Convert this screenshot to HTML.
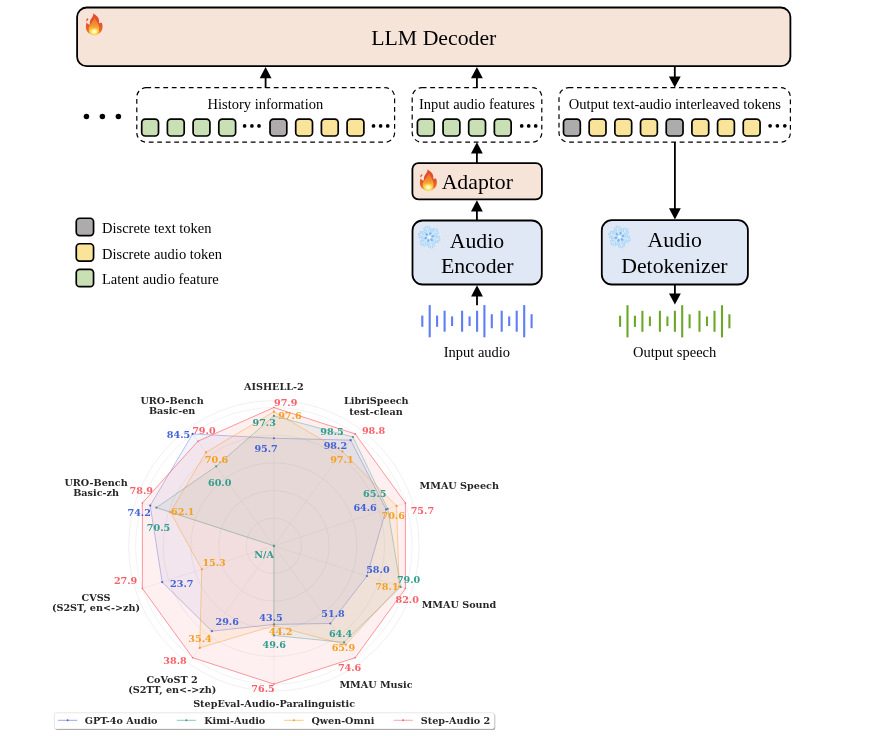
<!DOCTYPE html>
<html lang="en"><head><meta charset="utf-8"><title>Step-Audio 2 architecture and benchmark radar</title>
<style>
html,body{margin:0;padding:0;background:#fff;}
body{width:875px;height:736px;overflow:hidden;font-family:"Liberation Serif", "Times New Roman", serif;}
svg{display:block;will-change:transform;}
</style></head><body>
<svg width="875" height="736" viewBox="0 0 875 736">
<defs>
<linearGradient id="fireg" x1="0" y1="0" x2="0" y2="1">
<stop offset="0" stop-color="#E4492E"/><stop offset="0.5" stop-color="#E4502B"/><stop offset="0.8" stop-color="#EC6A2A"/><stop offset="1" stop-color="#F39A30"/>
</linearGradient>
<linearGradient id="firei" x1="0" y1="0" x2="0" y2="1">
<stop offset="0" stop-color="#EC6A2C"/><stop offset="0.45" stop-color="#F29333"/><stop offset="0.8" stop-color="#FBC63F"/><stop offset="1" stop-color="#FDD64A"/>
</linearGradient>
<radialGradient id="firey" cx="0.5" cy="0.5" r="0.5">
<stop offset="0" stop-color="#FFFFF2"/><stop offset="0.3" stop-color="#FFF7B0"/><stop offset="0.65" stop-color="#FDDC55" stop-opacity="0.8"/><stop offset="1" stop-color="#FBC63F" stop-opacity="0"/>
</radialGradient>
<filter id="fblur" x="-20%" y="-20%" width="140%" height="140%"><feGaussianBlur stdDeviation="20"/></filter>
</defs>
<rect width="875" height="736" fill="#fff"/>
<rect x="77.10" y="7.50" width="713.30" height="58.70" rx="9.5" ry="9.5" fill="#F6E4D8" stroke="#000" stroke-width="1.8" />
<g transform="translate(81.998,9.968) scale(0.03802,0.03802)">
<path d="M300 85 C330 120 400 150 430 210 C455 260 450 310 450 350 C475 335 500 330 520 335 C545 400 550 470 520 540 C490 610 420 650 320 650 C220 650 140 610 115 530 C95 470 100 390 120 330 C140 360 170 385 205 385 C200 320 215 250 250 215 C280 180 300 140 300 85 Z" fill="url(#fireg)"/>
<path d="M152 212 C122 238 104 270 114 302 C136 292 160 266 170 236 C160 232 154 224 152 212 Z" fill="#E5502E"/>
<path d="M330 190 C360 260 430 330 450 440 C465 550 410 645 320 648 C215 648 165 560 180 470 C195 380 300 300 330 190 Z" fill="url(#firei)" filter="url(#fblur)"/>
<ellipse cx="320" cy="570" rx="150" ry="120" fill="url(#firey)"/>
</g>
<text x="433.80" y="45.00" font-size="21.75" text-anchor="middle" fill="#000" font-family='"Liberation Serif", "Times New Roman", serif' font-weight="normal" >LLM Decoder</text>
<rect x="136.80" y="87.70" width="257.80" height="54.50" rx="9.5" ry="9.5" fill="none" stroke="#000" stroke-width="1.2" stroke-dasharray="4.8 3.7"/>
<rect x="412.20" y="87.70" width="129.60" height="54.50" rx="9.5" ry="9.5" fill="none" stroke="#000" stroke-width="1.2" stroke-dasharray="4.8 3.7"/>
<rect x="559.00" y="87.70" width="231.40" height="54.50" rx="9.5" ry="9.5" fill="none" stroke="#000" stroke-width="1.2" stroke-dasharray="4.8 3.7"/>
<text x="265.40" y="108.60" font-size="14.5" text-anchor="middle" fill="#000" font-family='"Liberation Serif", "Times New Roman", serif' font-weight="normal" >History information</text>
<text x="476.90" y="108.60" font-size="14.5" text-anchor="middle" fill="#000" font-family='"Liberation Serif", "Times New Roman", serif' font-weight="normal" >Input audio features</text>
<text x="674.90" y="108.60" font-size="14.5" text-anchor="middle" fill="#000" font-family='"Liberation Serif", "Times New Roman", serif' font-weight="normal" >Output text-audio interleaved tokens</text>
<rect x="141.70" y="119.20" width="16.80" height="16.80" rx="3.5" ry="3.5" fill="#C9E0B4" stroke="#000" stroke-width="1.7" />
<rect x="167.40" y="119.20" width="16.80" height="16.80" rx="3.5" ry="3.5" fill="#C9E0B4" stroke="#000" stroke-width="1.7" />
<rect x="193.10" y="119.20" width="16.80" height="16.80" rx="3.5" ry="3.5" fill="#C9E0B4" stroke="#000" stroke-width="1.7" />
<rect x="218.80" y="119.20" width="16.80" height="16.80" rx="3.5" ry="3.5" fill="#C9E0B4" stroke="#000" stroke-width="1.7" />
<circle cx="244.60" cy="125.90" r="1.85" fill="#000"/>
<circle cx="251.90" cy="125.90" r="1.85" fill="#000"/>
<circle cx="259.00" cy="125.90" r="1.85" fill="#000"/>
<rect x="270.00" y="119.20" width="16.80" height="16.80" rx="3.5" ry="3.5" fill="#ADABAB" stroke="#000" stroke-width="1.7" />
<rect x="295.70" y="119.20" width="16.80" height="16.80" rx="3.5" ry="3.5" fill="#FAE49A" stroke="#000" stroke-width="1.7" />
<rect x="321.40" y="119.20" width="16.80" height="16.80" rx="3.5" ry="3.5" fill="#FAE49A" stroke="#000" stroke-width="1.7" />
<rect x="347.10" y="119.20" width="16.80" height="16.80" rx="3.5" ry="3.5" fill="#FAE49A" stroke="#000" stroke-width="1.7" />
<circle cx="373.50" cy="125.90" r="1.85" fill="#000"/>
<circle cx="380.60" cy="125.90" r="1.85" fill="#000"/>
<circle cx="387.70" cy="125.90" r="1.85" fill="#000"/>
<rect x="417.40" y="119.20" width="16.80" height="16.80" rx="3.5" ry="3.5" fill="#C9E0B4" stroke="#000" stroke-width="1.7" />
<rect x="443.05" y="119.20" width="16.80" height="16.80" rx="3.5" ry="3.5" fill="#C9E0B4" stroke="#000" stroke-width="1.7" />
<rect x="468.70" y="119.20" width="16.80" height="16.80" rx="3.5" ry="3.5" fill="#C9E0B4" stroke="#000" stroke-width="1.7" />
<rect x="494.35" y="119.20" width="16.80" height="16.80" rx="3.5" ry="3.5" fill="#C9E0B4" stroke="#000" stroke-width="1.7" />
<circle cx="521.70" cy="125.90" r="1.85" fill="#000"/>
<circle cx="528.70" cy="125.90" r="1.85" fill="#000"/>
<circle cx="535.70" cy="125.90" r="1.85" fill="#000"/>
<rect x="563.50" y="119.20" width="16.80" height="16.80" rx="3.5" ry="3.5" fill="#ADABAB" stroke="#000" stroke-width="1.7" />
<rect x="589.18" y="119.20" width="16.80" height="16.80" rx="3.5" ry="3.5" fill="#FAE49A" stroke="#000" stroke-width="1.7" />
<rect x="614.86" y="119.20" width="16.80" height="16.80" rx="3.5" ry="3.5" fill="#FAE49A" stroke="#000" stroke-width="1.7" />
<rect x="640.54" y="119.20" width="16.80" height="16.80" rx="3.5" ry="3.5" fill="#FAE49A" stroke="#000" stroke-width="1.7" />
<rect x="666.22" y="119.20" width="16.80" height="16.80" rx="3.5" ry="3.5" fill="#ADABAB" stroke="#000" stroke-width="1.7" />
<rect x="691.90" y="119.20" width="16.80" height="16.80" rx="3.5" ry="3.5" fill="#FAE49A" stroke="#000" stroke-width="1.7" />
<rect x="717.58" y="119.20" width="16.80" height="16.80" rx="3.5" ry="3.5" fill="#FAE49A" stroke="#000" stroke-width="1.7" />
<rect x="743.26" y="119.20" width="16.80" height="16.80" rx="3.5" ry="3.5" fill="#FAE49A" stroke="#000" stroke-width="1.7" />
<circle cx="770.10" cy="125.80" r="1.85" fill="#000"/>
<circle cx="777.40" cy="125.80" r="1.85" fill="#000"/>
<circle cx="784.80" cy="125.80" r="1.85" fill="#000"/>
<circle cx="86.45" cy="116.60" r="2.75" fill="#000"/>
<circle cx="102.40" cy="116.60" r="2.75" fill="#000"/>
<circle cx="118.40" cy="116.60" r="2.75" fill="#000"/>
<path d="M265.60 77.20 L265.60 88.00" stroke="#000" stroke-width="1.8" fill="none"/>
<path d="M265.60 67.00 L271.50 78.20 L259.70 78.20 Z" fill="#000"/>
<path d="M476.90 77.20 L476.90 88.00" stroke="#000" stroke-width="1.8" fill="none"/>
<path d="M476.90 67.00 L482.80 78.20 L471.00 78.20 Z" fill="#000"/>
<path d="M674.80 67.00 L674.80 77.40" stroke="#000" stroke-width="1.8" fill="none"/>
<path d="M674.80 87.60 L680.70 76.40 L668.90 76.40 Z" fill="#000"/>
<path d="M476.90 152.40 L476.90 163.00" stroke="#000" stroke-width="1.8" fill="none"/>
<path d="M476.90 142.20 L482.80 153.40 L471.00 153.40 Z" fill="#000"/>
<path d="M476.90 210.40 L476.90 220.50" stroke="#000" stroke-width="1.8" fill="none"/>
<path d="M476.90 200.20 L482.80 211.40 L471.00 211.40 Z" fill="#000"/>
<path d="M477.00 295.40 L477.00 305.20" stroke="#000" stroke-width="1.8" fill="none"/>
<path d="M477.00 285.20 L482.90 296.40 L471.10 296.40 Z" fill="#000"/>
<path d="M674.90 142.00 L674.90 209.20" stroke="#000" stroke-width="1.8" fill="none"/>
<path d="M674.90 219.40 L680.80 208.20 L669.00 208.20 Z" fill="#000"/>
<path d="M674.90 285.00 L674.90 294.40" stroke="#000" stroke-width="1.8" fill="none"/>
<path d="M674.90 304.60 L680.80 293.40 L669.00 293.40 Z" fill="#000"/>
<rect x="412.40" y="163.10" width="129.50" height="36.20" rx="6" ry="6" fill="#F6E4D8" stroke="#000" stroke-width="1.8" />
<g transform="translate(415.930,166.143) scale(0.03870,0.03714)">
<path d="M300 85 C330 120 400 150 430 210 C455 260 450 310 450 350 C475 335 500 330 520 335 C545 400 550 470 520 540 C490 610 420 650 320 650 C220 650 140 610 115 530 C95 470 100 390 120 330 C140 360 170 385 205 385 C200 320 215 250 250 215 C280 180 300 140 300 85 Z" fill="url(#fireg)"/>
<path d="M152 212 C122 238 104 270 114 302 C136 292 160 266 170 236 C160 232 154 224 152 212 Z" fill="#E5502E"/>
<path d="M330 190 C360 260 430 330 450 440 C465 550 410 645 320 648 C215 648 165 560 180 470 C195 380 300 300 330 190 Z" fill="url(#firei)" filter="url(#fblur)"/>
<ellipse cx="320" cy="570" rx="150" ry="120" fill="url(#firey)"/>
</g>
<text x="477.30" y="189.20" font-size="21.75" text-anchor="middle" fill="#000" font-family='"Liberation Serif", "Times New Roman", serif' font-weight="normal" >Adaptor</text>
<rect x="412.50" y="220.50" width="129.30" height="64.00" rx="10" ry="10" fill="#E0E8F5" stroke="#000" stroke-width="1.8" />
<g transform="translate(429.20,237.10) rotate(-14)" stroke-linecap="round" fill="none">
<g transform="rotate(0)" stroke="#A6D0F6" stroke-width="2.62">
<path d="M0 0 L0 -10.46"/>
<path d="M0 -4.36 L3.06 -6.79 M0 -4.36 L-3.06 -6.79" stroke-width="2.29"/>
<path d="M0 -7.19 L2.55 -9.22 M0 -7.19 L-2.55 -9.22" stroke-width="2.29"/>
</g>
<g transform="rotate(60)" stroke="#A6D0F6" stroke-width="2.62">
<path d="M0 0 L0 -10.46"/>
<path d="M0 -4.36 L3.06 -6.79 M0 -4.36 L-3.06 -6.79" stroke-width="2.29"/>
<path d="M0 -7.19 L2.55 -9.22 M0 -7.19 L-2.55 -9.22" stroke-width="2.29"/>
</g>
<g transform="rotate(120)" stroke="#A6D0F6" stroke-width="2.62">
<path d="M0 0 L0 -10.46"/>
<path d="M0 -4.36 L3.06 -6.79 M0 -4.36 L-3.06 -6.79" stroke-width="2.29"/>
<path d="M0 -7.19 L2.55 -9.22 M0 -7.19 L-2.55 -9.22" stroke-width="2.29"/>
</g>
<g transform="rotate(180)" stroke="#A6D0F6" stroke-width="2.62">
<path d="M0 0 L0 -10.46"/>
<path d="M0 -4.36 L3.06 -6.79 M0 -4.36 L-3.06 -6.79" stroke-width="2.29"/>
<path d="M0 -7.19 L2.55 -9.22 M0 -7.19 L-2.55 -9.22" stroke-width="2.29"/>
</g>
<g transform="rotate(240)" stroke="#A6D0F6" stroke-width="2.62">
<path d="M0 0 L0 -10.46"/>
<path d="M0 -4.36 L3.06 -6.79 M0 -4.36 L-3.06 -6.79" stroke-width="2.29"/>
<path d="M0 -7.19 L2.55 -9.22 M0 -7.19 L-2.55 -9.22" stroke-width="2.29"/>
</g>
<g transform="rotate(300)" stroke="#A6D0F6" stroke-width="2.62">
<path d="M0 0 L0 -10.46"/>
<path d="M0 -4.36 L3.06 -6.79 M0 -4.36 L-3.06 -6.79" stroke-width="2.29"/>
<path d="M0 -7.19 L2.55 -9.22 M0 -7.19 L-2.55 -9.22" stroke-width="2.29"/>
</g>
<g transform="rotate(0)" stroke="#D3ECFC" stroke-width="1.20">
<path d="M0 0 L0 -10.46"/>
<path d="M0 -4.36 L3.06 -6.79 M0 -4.36 L-3.06 -6.79" stroke-width="0.98"/>
<path d="M0 -7.19 L2.55 -9.22 M0 -7.19 L-2.55 -9.22" stroke-width="0.98"/>
</g>
<g transform="rotate(60)" stroke="#D3ECFC" stroke-width="1.20">
<path d="M0 0 L0 -10.46"/>
<path d="M0 -4.36 L3.06 -6.79 M0 -4.36 L-3.06 -6.79" stroke-width="0.98"/>
<path d="M0 -7.19 L2.55 -9.22 M0 -7.19 L-2.55 -9.22" stroke-width="0.98"/>
</g>
<g transform="rotate(120)" stroke="#D3ECFC" stroke-width="1.20">
<path d="M0 0 L0 -10.46"/>
<path d="M0 -4.36 L3.06 -6.79 M0 -4.36 L-3.06 -6.79" stroke-width="0.98"/>
<path d="M0 -7.19 L2.55 -9.22 M0 -7.19 L-2.55 -9.22" stroke-width="0.98"/>
</g>
<g transform="rotate(180)" stroke="#D3ECFC" stroke-width="1.20">
<path d="M0 0 L0 -10.46"/>
<path d="M0 -4.36 L3.06 -6.79 M0 -4.36 L-3.06 -6.79" stroke-width="0.98"/>
<path d="M0 -7.19 L2.55 -9.22 M0 -7.19 L-2.55 -9.22" stroke-width="0.98"/>
</g>
<g transform="rotate(240)" stroke="#D3ECFC" stroke-width="1.20">
<path d="M0 0 L0 -10.46"/>
<path d="M0 -4.36 L3.06 -6.79 M0 -4.36 L-3.06 -6.79" stroke-width="0.98"/>
<path d="M0 -7.19 L2.55 -9.22 M0 -7.19 L-2.55 -9.22" stroke-width="0.98"/>
</g>
<g transform="rotate(300)" stroke="#D3ECFC" stroke-width="1.20">
<path d="M0 0 L0 -10.46"/>
<path d="M0 -4.36 L3.06 -6.79 M0 -4.36 L-3.06 -6.79" stroke-width="0.98"/>
<path d="M0 -7.19 L2.55 -9.22 M0 -7.19 L-2.55 -9.22" stroke-width="0.98"/>
</g>
<path transform="rotate(30)" d="M0 -3.27 L0 -3.92" stroke="#86B4EC" stroke-width="2.18"/>
<path transform="rotate(90)" d="M0 -3.27 L0 -3.92" stroke="#86B4EC" stroke-width="2.18"/>
<path transform="rotate(150)" d="M0 -3.27 L0 -3.92" stroke="#86B4EC" stroke-width="2.18"/>
<path transform="rotate(210)" d="M0 -3.27 L0 -3.92" stroke="#86B4EC" stroke-width="2.18"/>
<path transform="rotate(270)" d="M0 -3.27 L0 -3.92" stroke="#86B4EC" stroke-width="2.18"/>
<path transform="rotate(330)" d="M0 -3.27 L0 -3.92" stroke="#86B4EC" stroke-width="2.18"/>
<circle cx="0" cy="0" r="1.74" fill="#E6F5FD" stroke="none"/>
</g>
<text x="476.90" y="247.50" font-size="21.75" text-anchor="middle" fill="#000" font-family='"Liberation Serif", "Times New Roman", serif' font-weight="normal" >Audio</text>
<text x="477.20" y="273.20" font-size="21.75" text-anchor="middle" fill="#000" font-family='"Liberation Serif", "Times New Roman", serif' font-weight="normal" >Encoder</text>
<rect x="601.80" y="220.20" width="146.10" height="64.30" rx="10" ry="10" fill="#E0E8F5" stroke="#000" stroke-width="1.8" />
<g transform="translate(619.50,236.90) rotate(-14)" stroke-linecap="round" fill="none">
<g transform="rotate(0)" stroke="#A6D0F6" stroke-width="2.62">
<path d="M0 0 L0 -10.46"/>
<path d="M0 -4.36 L3.06 -6.79 M0 -4.36 L-3.06 -6.79" stroke-width="2.29"/>
<path d="M0 -7.19 L2.55 -9.22 M0 -7.19 L-2.55 -9.22" stroke-width="2.29"/>
</g>
<g transform="rotate(60)" stroke="#A6D0F6" stroke-width="2.62">
<path d="M0 0 L0 -10.46"/>
<path d="M0 -4.36 L3.06 -6.79 M0 -4.36 L-3.06 -6.79" stroke-width="2.29"/>
<path d="M0 -7.19 L2.55 -9.22 M0 -7.19 L-2.55 -9.22" stroke-width="2.29"/>
</g>
<g transform="rotate(120)" stroke="#A6D0F6" stroke-width="2.62">
<path d="M0 0 L0 -10.46"/>
<path d="M0 -4.36 L3.06 -6.79 M0 -4.36 L-3.06 -6.79" stroke-width="2.29"/>
<path d="M0 -7.19 L2.55 -9.22 M0 -7.19 L-2.55 -9.22" stroke-width="2.29"/>
</g>
<g transform="rotate(180)" stroke="#A6D0F6" stroke-width="2.62">
<path d="M0 0 L0 -10.46"/>
<path d="M0 -4.36 L3.06 -6.79 M0 -4.36 L-3.06 -6.79" stroke-width="2.29"/>
<path d="M0 -7.19 L2.55 -9.22 M0 -7.19 L-2.55 -9.22" stroke-width="2.29"/>
</g>
<g transform="rotate(240)" stroke="#A6D0F6" stroke-width="2.62">
<path d="M0 0 L0 -10.46"/>
<path d="M0 -4.36 L3.06 -6.79 M0 -4.36 L-3.06 -6.79" stroke-width="2.29"/>
<path d="M0 -7.19 L2.55 -9.22 M0 -7.19 L-2.55 -9.22" stroke-width="2.29"/>
</g>
<g transform="rotate(300)" stroke="#A6D0F6" stroke-width="2.62">
<path d="M0 0 L0 -10.46"/>
<path d="M0 -4.36 L3.06 -6.79 M0 -4.36 L-3.06 -6.79" stroke-width="2.29"/>
<path d="M0 -7.19 L2.55 -9.22 M0 -7.19 L-2.55 -9.22" stroke-width="2.29"/>
</g>
<g transform="rotate(0)" stroke="#D3ECFC" stroke-width="1.20">
<path d="M0 0 L0 -10.46"/>
<path d="M0 -4.36 L3.06 -6.79 M0 -4.36 L-3.06 -6.79" stroke-width="0.98"/>
<path d="M0 -7.19 L2.55 -9.22 M0 -7.19 L-2.55 -9.22" stroke-width="0.98"/>
</g>
<g transform="rotate(60)" stroke="#D3ECFC" stroke-width="1.20">
<path d="M0 0 L0 -10.46"/>
<path d="M0 -4.36 L3.06 -6.79 M0 -4.36 L-3.06 -6.79" stroke-width="0.98"/>
<path d="M0 -7.19 L2.55 -9.22 M0 -7.19 L-2.55 -9.22" stroke-width="0.98"/>
</g>
<g transform="rotate(120)" stroke="#D3ECFC" stroke-width="1.20">
<path d="M0 0 L0 -10.46"/>
<path d="M0 -4.36 L3.06 -6.79 M0 -4.36 L-3.06 -6.79" stroke-width="0.98"/>
<path d="M0 -7.19 L2.55 -9.22 M0 -7.19 L-2.55 -9.22" stroke-width="0.98"/>
</g>
<g transform="rotate(180)" stroke="#D3ECFC" stroke-width="1.20">
<path d="M0 0 L0 -10.46"/>
<path d="M0 -4.36 L3.06 -6.79 M0 -4.36 L-3.06 -6.79" stroke-width="0.98"/>
<path d="M0 -7.19 L2.55 -9.22 M0 -7.19 L-2.55 -9.22" stroke-width="0.98"/>
</g>
<g transform="rotate(240)" stroke="#D3ECFC" stroke-width="1.20">
<path d="M0 0 L0 -10.46"/>
<path d="M0 -4.36 L3.06 -6.79 M0 -4.36 L-3.06 -6.79" stroke-width="0.98"/>
<path d="M0 -7.19 L2.55 -9.22 M0 -7.19 L-2.55 -9.22" stroke-width="0.98"/>
</g>
<g transform="rotate(300)" stroke="#D3ECFC" stroke-width="1.20">
<path d="M0 0 L0 -10.46"/>
<path d="M0 -4.36 L3.06 -6.79 M0 -4.36 L-3.06 -6.79" stroke-width="0.98"/>
<path d="M0 -7.19 L2.55 -9.22 M0 -7.19 L-2.55 -9.22" stroke-width="0.98"/>
</g>
<path transform="rotate(30)" d="M0 -3.27 L0 -3.92" stroke="#86B4EC" stroke-width="2.18"/>
<path transform="rotate(90)" d="M0 -3.27 L0 -3.92" stroke="#86B4EC" stroke-width="2.18"/>
<path transform="rotate(150)" d="M0 -3.27 L0 -3.92" stroke="#86B4EC" stroke-width="2.18"/>
<path transform="rotate(210)" d="M0 -3.27 L0 -3.92" stroke="#86B4EC" stroke-width="2.18"/>
<path transform="rotate(270)" d="M0 -3.27 L0 -3.92" stroke="#86B4EC" stroke-width="2.18"/>
<path transform="rotate(330)" d="M0 -3.27 L0 -3.92" stroke="#86B4EC" stroke-width="2.18"/>
<circle cx="0" cy="0" r="1.74" fill="#E6F5FD" stroke="none"/>
</g>
<text x="674.70" y="247.30" font-size="21.75" text-anchor="middle" fill="#000" font-family='"Liberation Serif", "Times New Roman", serif' font-weight="normal" >Audio</text>
<text x="674.40" y="273.10" font-size="21.75" text-anchor="middle" fill="#000" font-family='"Liberation Serif", "Times New Roman", serif' font-weight="normal" >Detokenizer</text>
<rect x="421.25" y="315.60" width="2.1" height="11.20" fill="#5F7DF5"/>
<rect x="428.65" y="305.10" width="2.1" height="32.20" fill="#5F7DF5"/>
<rect x="436.05" y="315.60" width="2.1" height="11.20" fill="#5F7DF5"/>
<rect x="443.55" y="310.70" width="2.1" height="21.00" fill="#5F7DF5"/>
<rect x="451.05" y="316.40" width="2.1" height="9.60" fill="#5F7DF5"/>
<rect x="461.05" y="310.70" width="2.1" height="21.00" fill="#5F7DF5"/>
<rect x="468.55" y="316.40" width="2.1" height="9.60" fill="#5F7DF5"/>
<rect x="476.05" y="310.70" width="2.1" height="21.00" fill="#5F7DF5"/>
<rect x="483.35" y="305.10" width="2.1" height="32.20" fill="#5F7DF5"/>
<rect x="490.75" y="314.20" width="2.1" height="14.00" fill="#5F7DF5"/>
<rect x="500.65" y="310.70" width="2.1" height="21.00" fill="#5F7DF5"/>
<rect x="508.15" y="316.40" width="2.1" height="9.60" fill="#5F7DF5"/>
<rect x="515.65" y="310.70" width="2.1" height="21.00" fill="#5F7DF5"/>
<rect x="523.15" y="305.10" width="2.1" height="32.20" fill="#5F7DF5"/>
<rect x="530.55" y="314.20" width="2.1" height="14.00" fill="#5F7DF5"/>
<rect x="619.05" y="315.70" width="2.1" height="11.20" fill="#6BA82A"/>
<rect x="626.45" y="305.20" width="2.1" height="32.20" fill="#6BA82A"/>
<rect x="633.85" y="315.70" width="2.1" height="11.20" fill="#6BA82A"/>
<rect x="641.35" y="310.80" width="2.1" height="21.00" fill="#6BA82A"/>
<rect x="648.85" y="316.50" width="2.1" height="9.60" fill="#6BA82A"/>
<rect x="658.85" y="310.80" width="2.1" height="21.00" fill="#6BA82A"/>
<rect x="666.35" y="316.50" width="2.1" height="9.60" fill="#6BA82A"/>
<rect x="673.85" y="310.80" width="2.1" height="21.00" fill="#6BA82A"/>
<rect x="681.15" y="305.20" width="2.1" height="32.20" fill="#6BA82A"/>
<rect x="688.55" y="314.30" width="2.1" height="14.00" fill="#6BA82A"/>
<rect x="698.45" y="310.80" width="2.1" height="21.00" fill="#6BA82A"/>
<rect x="705.95" y="316.50" width="2.1" height="9.60" fill="#6BA82A"/>
<rect x="713.45" y="310.80" width="2.1" height="21.00" fill="#6BA82A"/>
<rect x="720.95" y="305.20" width="2.1" height="32.20" fill="#6BA82A"/>
<rect x="728.35" y="314.30" width="2.1" height="14.00" fill="#6BA82A"/>
<text x="476.90" y="356.70" font-size="14.5" text-anchor="middle" fill="#000" font-family='"Liberation Serif", "Times New Roman", serif' font-weight="normal" >Input audio</text>
<text x="674.60" y="356.70" font-size="14.5" text-anchor="middle" fill="#000" font-family='"Liberation Serif", "Times New Roman", serif' font-weight="normal" >Output speech</text>
<rect x="76.25" y="218.25" width="17.30" height="17.30" rx="3.5" ry="3.5" fill="#ADABAB" stroke="#000" stroke-width="1.7" />
<text x="102.00" y="232.90" font-size="14.5" text-anchor="start" fill="#000" font-family='"Liberation Serif", "Times New Roman", serif' font-weight="normal" >Discrete text token</text>
<rect x="76.25" y="243.75" width="17.30" height="17.30" rx="3.5" ry="3.5" fill="#FAE49A" stroke="#000" stroke-width="1.7" />
<text x="102.00" y="258.80" font-size="14.5" text-anchor="start" fill="#000" font-family='"Liberation Serif", "Times New Roman", serif' font-weight="normal" >Discrete audio token</text>
<rect x="76.25" y="269.35" width="17.30" height="17.30" rx="3.5" ry="3.5" fill="#C9E0B4" stroke="#000" stroke-width="1.7" />
<text x="102.00" y="283.70" font-size="14.5" text-anchor="start" fill="#000" font-family='"Liberation Serif", "Times New Roman", serif' font-weight="normal" >Latent audio feature</text>
<circle cx="273.9" cy="545.8" r="27.66" fill="none" stroke="#b0b0b0" stroke-opacity="0.28" stroke-width="0.6"/>
<circle cx="273.9" cy="545.8" r="55.32" fill="none" stroke="#b0b0b0" stroke-opacity="0.28" stroke-width="0.6"/>
<circle cx="273.9" cy="545.8" r="82.98" fill="none" stroke="#b0b0b0" stroke-opacity="0.28" stroke-width="0.6"/>
<circle cx="273.9" cy="545.8" r="110.64" fill="none" stroke="#b0b0b0" stroke-opacity="0.28" stroke-width="0.6"/>
<circle cx="273.9" cy="545.8" r="138.30" fill="none" stroke="#b0b0b0" stroke-opacity="0.28" stroke-width="0.6"/>
<circle cx="273.9" cy="545.8" r="145.22" fill="none" stroke="#b0b0b0" stroke-opacity="0.28" stroke-width="0.7"/>
<path d="M273.9 545.8 L273.90 407.50" stroke="#b0b0b0" stroke-opacity="0.22" stroke-width="0.6"/>
<path d="M273.9 545.8 L355.19 433.91" stroke="#b0b0b0" stroke-opacity="0.22" stroke-width="0.6"/>
<path d="M273.9 545.8 L405.43 503.06" stroke="#b0b0b0" stroke-opacity="0.22" stroke-width="0.6"/>
<path d="M273.9 545.8 L405.43 588.54" stroke="#b0b0b0" stroke-opacity="0.22" stroke-width="0.6"/>
<path d="M273.9 545.8 L355.19 657.69" stroke="#b0b0b0" stroke-opacity="0.22" stroke-width="0.6"/>
<path d="M273.9 545.8 L273.90 684.10" stroke="#b0b0b0" stroke-opacity="0.22" stroke-width="0.6"/>
<path d="M273.9 545.8 L192.61 657.69" stroke="#b0b0b0" stroke-opacity="0.22" stroke-width="0.6"/>
<path d="M273.9 545.8 L142.37 588.54" stroke="#b0b0b0" stroke-opacity="0.22" stroke-width="0.6"/>
<path d="M273.9 545.8 L142.37 503.06" stroke="#b0b0b0" stroke-opacity="0.22" stroke-width="0.6"/>
<path d="M273.9 545.8 L192.61 433.91" stroke="#b0b0b0" stroke-opacity="0.22" stroke-width="0.6"/>
<path d="M273.90 438.23 L350.67 440.13 L386.14 509.33 L366.93 576.03 L330.35 623.49 L273.90 624.44 L211.88 631.16 L162.17 582.10 L150.20 505.61 L192.61 433.91 Z" fill="#4063D8" fill-opacity="0.07" stroke="#4063D8" stroke-width="0.6" stroke-opacity="0.62" stroke-linejoin="round"/>
<circle cx="273.90" cy="438.23" r="1.1" fill="#4063D8"/>
<circle cx="350.67" cy="440.13" r="1.1" fill="#4063D8"/>
<circle cx="386.14" cy="509.33" r="1.1" fill="#4063D8"/>
<circle cx="366.93" cy="576.03" r="1.1" fill="#4063D8"/>
<circle cx="330.35" cy="623.49" r="1.1" fill="#4063D8"/>
<circle cx="273.90" cy="624.44" r="1.1" fill="#4063D8"/>
<circle cx="211.88" cy="631.16" r="1.1" fill="#4063D8"/>
<circle cx="162.17" cy="582.10" r="1.1" fill="#4063D8"/>
<circle cx="150.20" cy="505.61" r="1.1" fill="#4063D8"/>
<circle cx="192.61" cy="433.91" r="1.1" fill="#4063D8"/>
<path d="M273.90 415.88 L352.93 437.02 L387.71 508.82 L400.62 586.97 L344.08 642.39 L273.90 635.47 L273.90 545.80 L273.90 545.80 L156.37 507.61 L216.18 466.35 Z" fill="#2E9E8F" fill-opacity="0.08" stroke="#2E9E8F" stroke-width="0.6" stroke-opacity="0.65" stroke-linejoin="round"/>
<circle cx="273.90" cy="415.88" r="1.1" fill="#2E9E8F"/>
<circle cx="352.93" cy="437.02" r="1.1" fill="#2E9E8F"/>
<circle cx="387.71" cy="508.82" r="1.1" fill="#2E9E8F"/>
<circle cx="400.62" cy="586.97" r="1.1" fill="#2E9E8F"/>
<circle cx="344.08" cy="642.39" r="1.1" fill="#2E9E8F"/>
<circle cx="273.90" cy="635.47" r="1.1" fill="#2E9E8F"/>
<circle cx="273.90" cy="545.80" r="1.1" fill="#2E9E8F"/>
<circle cx="273.90" cy="545.80" r="1.1" fill="#2E9E8F"/>
<circle cx="156.37" cy="507.61" r="1.1" fill="#2E9E8F"/>
<circle cx="216.18" cy="466.35" r="1.1" fill="#2E9E8F"/>
<path d="M273.90 411.69 L342.39 451.52 L396.57 505.94 L399.18 586.50 L345.71 644.64 L273.90 625.71 L199.73 647.88 L201.77 569.24 L170.38 512.16 L205.98 452.32 Z" fill="#F5A020" fill-opacity="0.08" stroke="#F5A020" stroke-width="0.6" stroke-opacity="0.7" stroke-linejoin="round"/>
<circle cx="273.90" cy="411.69" r="1.1" fill="#F5A020"/>
<circle cx="342.39" cy="451.52" r="1.1" fill="#F5A020"/>
<circle cx="396.57" cy="505.94" r="1.1" fill="#F5A020"/>
<circle cx="399.18" cy="586.50" r="1.1" fill="#F5A020"/>
<circle cx="345.71" cy="644.64" r="1.1" fill="#F5A020"/>
<circle cx="273.90" cy="625.71" r="1.1" fill="#F5A020"/>
<circle cx="199.73" cy="647.88" r="1.1" fill="#F5A020"/>
<circle cx="201.77" cy="569.24" r="1.1" fill="#F5A020"/>
<circle cx="170.38" cy="512.16" r="1.1" fill="#F5A020"/>
<circle cx="205.98" cy="452.32" r="1.1" fill="#F5A020"/>
<path d="M273.90 407.50 L355.19 433.91 L405.43 503.06 L405.43 588.54 L355.19 657.69 L273.90 684.10 L192.61 657.69 L142.37 588.54 L142.37 503.06 L197.90 441.20 Z" fill="#FA5F68" fill-opacity="0.1" stroke="#FA5F68" stroke-width="0.75" stroke-opacity="0.85" stroke-linejoin="round"/>
<circle cx="273.90" cy="407.50" r="0.8" fill="#FA5F68"/>
<circle cx="355.19" cy="433.91" r="0.8" fill="#FA5F68"/>
<circle cx="405.43" cy="503.06" r="0.8" fill="#FA5F68"/>
<circle cx="405.43" cy="588.54" r="0.8" fill="#FA5F68"/>
<circle cx="355.19" cy="657.69" r="0.8" fill="#FA5F68"/>
<circle cx="273.90" cy="684.10" r="0.8" fill="#FA5F68"/>
<circle cx="192.61" cy="657.69" r="0.8" fill="#FA5F68"/>
<circle cx="142.37" cy="588.54" r="0.8" fill="#FA5F68"/>
<circle cx="142.37" cy="503.06" r="0.8" fill="#FA5F68"/>
<circle cx="197.90" cy="441.20" r="0.8" fill="#FA5F68"/>
<text x="273.90" y="389.80" font-size="9.65" text-anchor="middle" fill="#262626" font-family='"DejaVu Serif", "Liberation Serif", serif' font-weight="bold">AISHELL-2</text>
<text x="376.30" y="403.60" font-size="9.65" text-anchor="middle" fill="#262626" font-family='"DejaVu Serif", "Liberation Serif", serif' font-weight="bold">LibriSpeech</text>
<text x="376.00" y="414.50" font-size="9.65" text-anchor="middle" fill="#262626" font-family='"DejaVu Serif", "Liberation Serif", serif' font-weight="bold">test-clean</text>
<text x="376.00" y="688.20" font-size="9.65" text-anchor="middle" fill="#262626" font-family='"DejaVu Serif", "Liberation Serif", serif' font-weight="bold">MMAU Music</text>
<text x="274.10" y="706.80" font-size="9.65" text-anchor="middle" fill="#262626" font-family='"DejaVu Serif", "Liberation Serif", serif' font-weight="bold">StepEval-Audio-Paralinguistic</text>
<text x="172.00" y="682.70" font-size="9.65" text-anchor="middle" fill="#262626" font-family='"DejaVu Serif", "Liberation Serif", serif' font-weight="bold">CoVoST 2</text>
<text x="172.20" y="693.20" font-size="9.65" text-anchor="middle" fill="#262626" font-family='"DejaVu Serif", "Liberation Serif", serif' font-weight="bold">(S2TT, en&lt;-&gt;zh)</text>
<text x="96.00" y="600.80" font-size="9.65" text-anchor="middle" fill="#262626" font-family='"DejaVu Serif", "Liberation Serif", serif' font-weight="bold">CVSS</text>
<text x="96.00" y="611.40" font-size="9.65" text-anchor="middle" fill="#262626" font-family='"DejaVu Serif", "Liberation Serif", serif' font-weight="bold">(S2ST, en&lt;-&gt;zh)</text>
<text x="96.10" y="486.30" font-size="9.65" text-anchor="middle" fill="#262626" font-family='"DejaVu Serif", "Liberation Serif", serif' font-weight="bold">URO-Bench</text>
<text x="96.10" y="496.40" font-size="9.65" text-anchor="middle" fill="#262626" font-family='"DejaVu Serif", "Liberation Serif", serif' font-weight="bold">Basic-zh</text>
<text x="172.10" y="404.30" font-size="9.65" text-anchor="middle" fill="#262626" font-family='"DejaVu Serif", "Liberation Serif", serif' font-weight="bold">URO-Bench</text>
<text x="172.10" y="414.40" font-size="9.65" text-anchor="middle" fill="#262626" font-family='"DejaVu Serif", "Liberation Serif", serif' font-weight="bold">Basic-en</text>
<text x="419.60" y="488.80" font-size="9.65" text-anchor="start" fill="#262626" font-family='"DejaVu Serif", "Liberation Serif", serif' font-weight="bold">MMAU Speech</text>
<text x="421.70" y="608.00" font-size="9.65" text-anchor="start" fill="#262626" font-family='"DejaVu Serif", "Liberation Serif", serif' font-weight="bold">MMAU Sound</text>
<text x="178.50" y="437.65" font-size="9.62" text-anchor="middle" fill="#4063D8" font-family='"DejaVu Serif", "Liberation Serif", serif' font-weight="bold">84.5</text>
<text x="203.90" y="433.95" font-size="9.62" text-anchor="middle" fill="#FA5F68" font-family='"DejaVu Serif", "Liberation Serif", serif' font-weight="bold">79.0</text>
<text x="216.50" y="462.95" font-size="9.62" text-anchor="middle" fill="#F5A020" font-family='"DejaVu Serif", "Liberation Serif", serif' font-weight="bold">70.6</text>
<text x="219.70" y="486.05" font-size="9.62" text-anchor="middle" fill="#2E9E8F" font-family='"DejaVu Serif", "Liberation Serif", serif' font-weight="bold">60.0</text>
<text x="266.10" y="452.35" font-size="9.62" text-anchor="middle" fill="#4063D8" font-family='"DejaVu Serif", "Liberation Serif", serif' font-weight="bold">95.7</text>
<text x="264.20" y="426.35" font-size="9.62" text-anchor="middle" fill="#2E9E8F" font-family='"DejaVu Serif", "Liberation Serif", serif' font-weight="bold">97.3</text>
<text x="141.30" y="493.65" font-size="9.62" text-anchor="middle" fill="#FA5F68" font-family='"DejaVu Serif", "Liberation Serif", serif' font-weight="bold">78.9</text>
<text x="139.20" y="516.35" font-size="9.62" text-anchor="middle" fill="#4063D8" font-family='"DejaVu Serif", "Liberation Serif", serif' font-weight="bold">74.2</text>
<text x="182.80" y="514.95" font-size="9.62" text-anchor="middle" fill="#F5A020" font-family='"DejaVu Serif", "Liberation Serif", serif' font-weight="bold">62.1</text>
<text x="158.50" y="530.75" font-size="9.62" text-anchor="middle" fill="#2E9E8F" font-family='"DejaVu Serif", "Liberation Serif", serif' font-weight="bold">70.5</text>
<text x="285.70" y="405.55" font-size="9.62" text-anchor="middle" fill="#FA5F68" font-family='"DejaVu Serif", "Liberation Serif", serif' font-weight="bold">97.9</text>
<text x="289.90" y="418.85" font-size="9.62" text-anchor="middle" fill="#F5A020" font-family='"DejaVu Serif", "Liberation Serif", serif' font-weight="bold">97.6</text>
<text x="332.00" y="435.25" font-size="9.62" text-anchor="middle" fill="#2E9E8F" font-family='"DejaVu Serif", "Liberation Serif", serif' font-weight="bold">98.5</text>
<text x="373.60" y="433.65" font-size="9.62" text-anchor="middle" fill="#FA5F68" font-family='"DejaVu Serif", "Liberation Serif", serif' font-weight="bold">98.8</text>
<text x="335.40" y="448.75" font-size="9.62" text-anchor="middle" fill="#4063D8" font-family='"DejaVu Serif", "Liberation Serif", serif' font-weight="bold">98.2</text>
<text x="341.90" y="462.85" font-size="9.62" text-anchor="middle" fill="#F5A020" font-family='"DejaVu Serif", "Liberation Serif", serif' font-weight="bold">97.1</text>
<text x="374.80" y="497.25" font-size="9.62" text-anchor="middle" fill="#2E9E8F" font-family='"DejaVu Serif", "Liberation Serif", serif' font-weight="bold">65.5</text>
<text x="365.10" y="510.95" font-size="9.62" text-anchor="middle" fill="#4063D8" font-family='"DejaVu Serif", "Liberation Serif", serif' font-weight="bold">64.6</text>
<text x="393.20" y="519.05" font-size="9.62" text-anchor="middle" fill="#F5A020" font-family='"DejaVu Serif", "Liberation Serif", serif' font-weight="bold">70.6</text>
<text x="422.40" y="513.55" font-size="9.62" text-anchor="middle" fill="#FA5F68" font-family='"DejaVu Serif", "Liberation Serif", serif' font-weight="bold">75.7</text>
<text x="377.90" y="572.85" font-size="9.62" text-anchor="middle" fill="#4063D8" font-family='"DejaVu Serif", "Liberation Serif", serif' font-weight="bold">58.0</text>
<text x="408.60" y="582.65" font-size="9.62" text-anchor="middle" fill="#2E9E8F" font-family='"DejaVu Serif", "Liberation Serif", serif' font-weight="bold">79.0</text>
<text x="386.90" y="590.35" font-size="9.62" text-anchor="middle" fill="#F5A020" font-family='"DejaVu Serif", "Liberation Serif", serif' font-weight="bold">78.1</text>
<text x="407.20" y="603.45" font-size="9.62" text-anchor="middle" fill="#FA5F68" font-family='"DejaVu Serif", "Liberation Serif", serif' font-weight="bold">82.0</text>
<text x="333.00" y="616.55" font-size="9.62" text-anchor="middle" fill="#4063D8" font-family='"DejaVu Serif", "Liberation Serif", serif' font-weight="bold">51.8</text>
<text x="340.60" y="637.05" font-size="9.62" text-anchor="middle" fill="#2E9E8F" font-family='"DejaVu Serif", "Liberation Serif", serif' font-weight="bold">64.4</text>
<text x="343.40" y="651.45" font-size="9.62" text-anchor="middle" fill="#F5A020" font-family='"DejaVu Serif", "Liberation Serif", serif' font-weight="bold">65.9</text>
<text x="349.60" y="670.95" font-size="9.62" text-anchor="middle" fill="#FA5F68" font-family='"DejaVu Serif", "Liberation Serif", serif' font-weight="bold">74.6</text>
<text x="271.00" y="621.05" font-size="9.62" text-anchor="middle" fill="#4063D8" font-family='"DejaVu Serif", "Liberation Serif", serif' font-weight="bold">43.5</text>
<text x="280.80" y="635.15" font-size="9.62" text-anchor="middle" fill="#F5A020" font-family='"DejaVu Serif", "Liberation Serif", serif' font-weight="bold">44.2</text>
<text x="274.20" y="647.95" font-size="9.62" text-anchor="middle" fill="#2E9E8F" font-family='"DejaVu Serif", "Liberation Serif", serif' font-weight="bold">49.6</text>
<text x="263.00" y="691.65" font-size="9.62" text-anchor="middle" fill="#FA5F68" font-family='"DejaVu Serif", "Liberation Serif", serif' font-weight="bold">76.5</text>
<text x="264.00" y="558.15" font-size="9.62" text-anchor="middle" fill="#2E9E8F" font-family='"DejaVu Serif", "Liberation Serif", serif' font-weight="bold">N/A</text>
<text x="214.10" y="565.55" font-size="9.62" text-anchor="middle" fill="#F5A020" font-family='"DejaVu Serif", "Liberation Serif", serif' font-weight="bold">15.3</text>
<text x="181.80" y="586.65" font-size="9.62" text-anchor="middle" fill="#4063D8" font-family='"DejaVu Serif", "Liberation Serif", serif' font-weight="bold">23.7</text>
<text x="125.60" y="583.95" font-size="9.62" text-anchor="middle" fill="#FA5F68" font-family='"DejaVu Serif", "Liberation Serif", serif' font-weight="bold">27.9</text>
<text x="227.20" y="625.05" font-size="9.62" text-anchor="middle" fill="#4063D8" font-family='"DejaVu Serif", "Liberation Serif", serif' font-weight="bold">29.6</text>
<text x="200.00" y="641.65" font-size="9.62" text-anchor="middle" fill="#F5A020" font-family='"DejaVu Serif", "Liberation Serif", serif' font-weight="bold">35.4</text>
<text x="175.00" y="663.75" font-size="9.62" text-anchor="middle" fill="#FA5F68" font-family='"DejaVu Serif", "Liberation Serif", serif' font-weight="bold">38.8</text>
<rect x="55.3" y="713.7" width="439.9" height="16.2" rx="2" fill="#000" opacity="0.42"/>
<rect x="54.4" y="712.8" width="440" height="16.2" rx="2" fill="#fff" stroke="#dcdcdc" stroke-width="0.7"/>
<path d="M58.0 720.3 L77.2 720.3" stroke="#4063D8" stroke-width="0.7" stroke-opacity="0.8"/>
<circle cx="67.60" cy="720.3" r="0.95" fill="#4063D8"/>
<text x="84.80" y="723.70" font-size="9.62" text-anchor="start" fill="#262626" font-family='"DejaVu Serif", "Liberation Serif", serif' font-weight="bold">GPT-4o Audio</text>
<path d="M176.8 720.3 L196.0 720.3" stroke="#2E9E8F" stroke-width="0.7" stroke-opacity="0.8"/>
<circle cx="186.40" cy="720.3" r="0.95" fill="#2E9E8F"/>
<text x="204.20" y="723.70" font-size="9.62" text-anchor="start" fill="#262626" font-family='"DejaVu Serif", "Liberation Serif", serif' font-weight="bold">Kimi-Audio</text>
<path d="M284.2 720.3 L303.6 720.3" stroke="#F5A020" stroke-width="0.7" stroke-opacity="0.8"/>
<circle cx="293.90" cy="720.3" r="0.95" fill="#F5A020"/>
<text x="311.40" y="723.70" font-size="9.62" text-anchor="start" fill="#262626" font-family='"DejaVu Serif", "Liberation Serif", serif' font-weight="bold">Qwen-Omni</text>
<path d="M393.5 720.3 L412.9 720.3" stroke="#FA5F68" stroke-width="0.7" stroke-opacity="0.8"/>
<circle cx="403.20" cy="720.3" r="0.95" fill="#FA5F68"/>
<text x="420.80" y="723.70" font-size="9.62" text-anchor="start" fill="#262626" font-family='"DejaVu Serif", "Liberation Serif", serif' font-weight="bold">Step-Audio 2</text>
</svg>
</body></html>
